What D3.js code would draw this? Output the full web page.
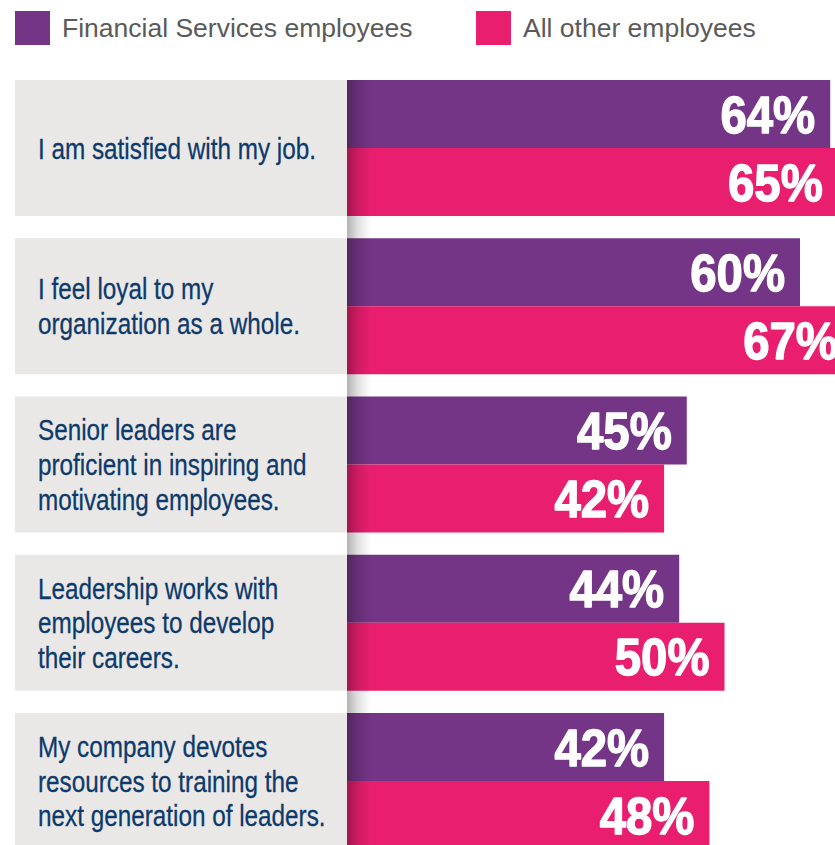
<!DOCTYPE html>
<html>
<head>
<meta charset="utf-8">
<script src="https://cdn.jsdelivr.net/npm/d3@7"></script>
<style>
  html, body { margin: 0; padding: 0; background: #fff; }
  svg { display: block; }
</style>
</head>
<body>
<svg id="chart" width="835" height="845"></svg>
<script>
// Survey statements (each split into its printed lines)
const statements = [
  ["I am satisfied with my job."],
  ["I feel loyal to my", "organization as a whole."],
  ["Senior leaders are", "proficient in inspiring and", "motivating employees."],
  ["Leadership works with", "employees to develop", "their careers."],
  ["My company devotes", "resources to training the", "next generation of leaders."]
];
const seriesNames = ["Financial Services employees", "All other employees"];
const financialServices = [64, 60, 45, 44, 42];
const allOther = [65, 67, 42, 50, 48];
const colors = ["#743587", "#e91e6f"];

const svg = d3.select("#chart");
const W = 835, H = 845;
const labelLeft = 15, barLeft = 347;
const FONT = "Liberation Sans, Arial, Helvetica, sans-serif";

const x = d3.scaleLinear().domain([0, 100]).range([barLeft, barLeft + 755]);
const y = d3.scaleBand().domain(d3.range(statements.length)).range([80, 849]).paddingInner(0.1406).paddingOuter(0);
const sub = d3.scaleBand().domain([0, 1]).range([0, y.bandwidth()]);

// Shadow gradient along the bar baseline
const defs = svg.append("defs");
const g1 = defs.append("linearGradient").attr("id", "edgeShade").attr("x1", 0).attr("x2", 1).attr("y1", 0).attr("y2", 0);
g1.append("stop").attr("offset", 0).attr("stop-color", "#000").attr("stop-opacity", 0.3);
g1.append("stop").attr("offset", 0.45).attr("stop-color", "#000").attr("stop-opacity", 0.12);
g1.append("stop").attr("offset", 1).attr("stop-color", "#000").attr("stop-opacity", 0);
defs.append("clipPath").attr("id", "plotClip")
  .append("rect").attr("x", 0).attr("y", 0).attr("width", W).attr("height", H);

// Legend
const legend = svg.append("g");
const legendX = [15, 476];
seriesNames.forEach((name, i) => {
  legend.append("rect").attr("x", legendX[i]).attr("y", 11).attr("width", 35).attr("height", 34).attr("fill", colors[i]);
  legend.append("text").attr("x", legendX[i] + 47).attr("y", 37)
    .attr("font-family", FONT).attr("font-size", 26.5)
    .attr("fill", "#5a5a5a").text(name);
});

const plot = svg.append("g").attr("clip-path", "url(#plotClip)");

// Grey statement boxes with condensed navy text
statements.forEach((lines, i) => {
  const top = y(i);
  plot.append("rect").attr("x", labelLeft).attr("y", top).attr("width", barLeft - labelLeft)
    .attr("height", y.bandwidth()).attr("fill", "#eae8e7");
  const cy = top + y.bandwidth() / 2;
  const lh = 34.6;
  lines.forEach((ln, k) => {
    const by = cy + (k - (lines.length - 1) / 2) * lh + 10.5;
    plot.append("text")
      .attr("transform", `translate(38,${by}) scale(0.81,1)`)
      .attr("font-family", FONT).attr("font-size", 30).attr("fill", "#0d3a6b")
      .attr("stroke", "#0d3a6b").attr("stroke-width", 0.3)
      .text(ln);
  });
});

// Bars with value labels
[financialServices, allOther].forEach((vals, s) => {
  vals.forEach((v, i) => {
    const top = y(i) + sub(s);
    plot.append("rect").attr("x", barLeft).attr("y", top)
      .attr("width", x(v) - barLeft).attr("height", sub.bandwidth()).attr("fill", colors[s]);
    plot.append("text")
      .attr("transform", `translate(${x(v) - 15},${top + sub.bandwidth() / 2 + 18.7}) scale(0.9,1)`)
      .attr("text-anchor", "end")
      .attr("font-family", FONT)
      .attr("font-weight", "bold").attr("font-size", 52.6).attr("fill", "#fff")
      .attr("stroke", "#fff").attr("stroke-width", 1.4).attr("stroke-linejoin", "round")
      .text(v + "%");
  });
});

// Soft shadow along the left edge of the bars
plot.append("rect").attr("x", barLeft).attr("y", y(0)).attr("width", 24).attr("height", H - y(0))
  .attr("fill", "url(#edgeShade)");
</script>
</body>
</html>
